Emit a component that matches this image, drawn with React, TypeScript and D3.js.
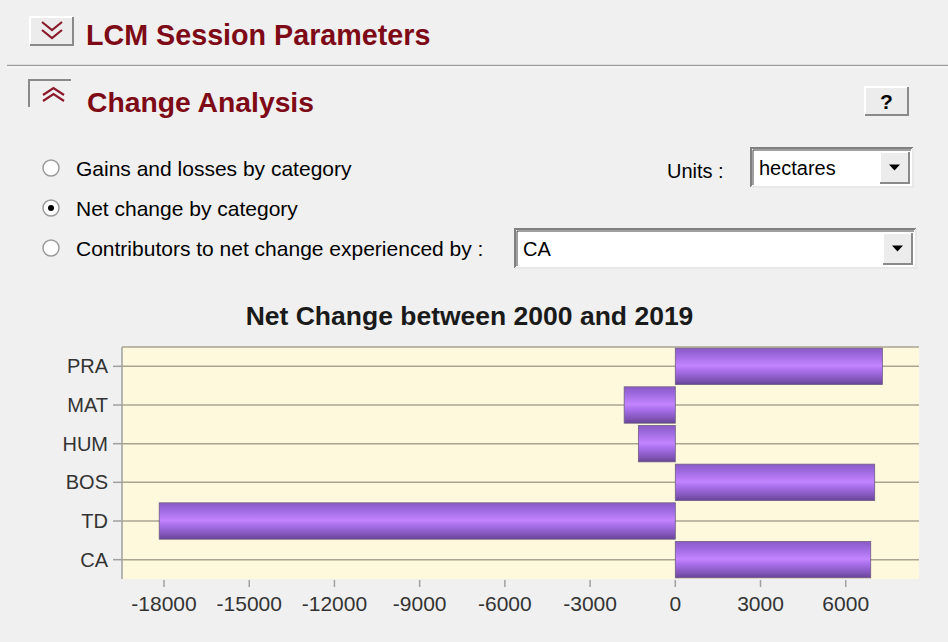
import React from "react";
import { scaleBand, scaleLinear } from "d3";

// categorías (de arriba abajo) y cambio neto en hectáreas
const categories = ["PRA", "MAT", "HUM", "BOS", "TD", "CA"];
const netChange = [7290, -1800, -1300, 7020, -18170, 6880];
const xTicks = [-18000, -15000, -12000, -9000, -6000, -3000, 0, 3000, 6000];

const radioLabels = [
  "Gains and losses by category",
  "Net change by category",
  "Contributors to net change experienced by :",
];
const selectedRadio = 1;

const FONT = "'Liberation Sans', Arial, sans-serif";

// botón con relieve estilo Windows
const Bevel: React.FC<{ x: number; y: number; w: number; h: number; sunken?: boolean }> = ({
  x,
  y,
  w,
  h,
  sunken,
}) => {
  const light = sunken ? "#7a7a7a" : "#ffffff";
  const dark = sunken ? "#ffffff" : "#8a8a8a";
  return (
    <g>
      <rect x={x} y={y} width={w} height={h} fill="#ececec" />
      <path d={`M${x},${y + h} V${y} H${x + w}`} fill="none" stroke={light} strokeWidth={2} />
      <path d={`M${x},${y + h} H${x + w} V${y}`} fill="none" stroke={dark} strokeWidth={2} />
    </g>
  );
};

const Combo: React.FC<{ x: number; y: number; w: number; h: number; text: string }> = ({
  x,
  y,
  w,
  h,
  text,
}) => {
  const bx = x + w - 33;
  return (
    <g>
      <rect x={x} y={y} width={w} height={h} fill="#ffffff" />
      <path d={`M${x},${y + h} V${y} H${x + w}`} fill="none" stroke="#808080" strokeWidth={2} />
      <path d={`M${x + 2},${y + h - 2} V${y + 2} H${x + w - 2}`} fill="none" stroke="#404040" strokeWidth={1} />
      <path d={`M${x},${y + h} H${x + w} V${y}`} fill="none" stroke="#e8e8e8" strokeWidth={2} />
      <Bevel x={bx} y={y + 4} w={29} h={h - 8} />
      <path d={`M${bx + 9},${y + h / 2 - 3} h11 l-5.5,6 z`} fill="#000" />
      <text x={x + 8} y={y + h / 2 + 7} fontFamily={FONT} fontSize={20} fill="#000">
        {text}
      </text>
    </g>
  );
};

export default function App() {
  const width = 948;
  const height = 642;
  const plot = { left: 122, right: 919, top: 347, bottom: 579 };

  const x = scaleLinear().domain([-19480, 8580]).range([plot.left, plot.right]);
  const y = scaleBand<string>()
    .domain(categories)
    .range([plot.top, plot.bottom])
    .paddingInner(0.06)
    .paddingOuter(0.03);

  const data = categories.map((c, i) => ({ cat: c, value: netChange[i] }));

  return (
    <div style={{ position: "fixed", left: 0, top: 0, width, height, background: "#f0f0f0" }}>
      <svg width={width} height={height} style={{ display: "block" }}>
        <defs>
          <linearGradient id="barGrad" x1="0" y1="0" x2="0" y2="1">
            <stop offset="0%" stopColor="#8a5ac6" />
            <stop offset="20%" stopColor="#9e6ae0" />
            <stop offset="48%" stopColor="#c384ff" />
            <stop offset="62%" stopColor="#a970ec" />
            <stop offset="88%" stopColor="#8054b6" />
            <stop offset="100%" stopColor="#654494" />
          </linearGradient>
        </defs>
        <rect width={width} height={height} fill="#f0f0f0" />

        {/* Cabecera: LCM Session Parameters */}
        <Bevel x={30} y={17} w={43} h={28} />
        <path d="M42,22 l10,8 l10,-8 M42,30 l10,8 l10,-8" fill="none" stroke="#8b1a2a" strokeWidth={2.2} />
        <text x={86} y={45} fontFamily={FONT} fontWeight="bold" fontSize={28.7} fill="#7d0a16">
          LCM Session Parameters
        </text>
        <line x1={7} x2={948} y1={65.5} y2={65.5} stroke="#a0a0a0" strokeWidth={1.5} />
        <line x1={7} x2={948} y1={67} y2={67} stroke="#ffffff" strokeWidth={1} />

        {/* Cabecera: Change Analysis */}
        <path d="M29,107 V80 H71" fill="none" stroke="#8a8a8a" strokeWidth={2} />
        <path d="M43,95 l10.5,-7 l10.5,7 M43,101 l10.5,-7 l10.5,7" fill="none" stroke="#8b1a2a" strokeWidth={2.2} />
        <text x={87} y={112} fontFamily={FONT} fontWeight="bold" fontSize={28.3} fill="#7d0a16">
          Change Analysis
        </text>
        <Bevel x={865} y={87} w={43} h={28} />
        <text x={886.5} y={109} textAnchor="middle" fontFamily={FONT} fontWeight="bold" fontSize={21} fill="#000">
          ?
        </text>

        {/* Opciones */}
        {radioLabels.map((label, i) => {
          const cy = 168 + i * 40;
          return (
            <g key={label}>
              <circle cx={51} cy={cy} r={8} fill="#ffffff" stroke="#9a9a9a" strokeWidth={1.5} />
              {i === selectedRadio && <circle cx={51} cy={cy} r={3} fill="#000" />}
              <text x={76} y={cy + 8} fontFamily={FONT} fontSize={21} fill="#000">
                {label}
              </text>
            </g>
          );
        })}
        <text x={667} y={178} fontFamily={FONT} fontSize={20} fill="#000">
          Units :
        </text>
        <Combo x={751} y={148} w={162} h={39} text="hectares" />
        <Combo x={515} y={229} w={401} h={39} text="CA" />

        {/* Título */}
        <text
          x={469.5}
          y={325}
          textAnchor="middle"
          fontFamily={FONT}
          fontWeight="bold"
          fontSize={26.5}
          fill="#1a1a1a"
        >
          Net Change between 2000 and 2019
        </text>

        {/* Área del gráfico */}
        <rect
          x={plot.left}
          y={plot.top}
          width={plot.right - plot.left}
          height={plot.bottom - plot.top}
          fill="#fef9dc"
        />
        <line x1={plot.left} x2={plot.right} y1={plot.top} y2={plot.top} stroke="#a8a490" strokeWidth={1.5} />
        <line x1={plot.left} x2={plot.left} y1={plot.top} y2={plot.bottom} stroke="#a0a0a0" strokeWidth={1.5} />

        {/* Líneas de categoría + etiquetas */}
        {categories.map((c) => {
          const cy = (y(c) ?? 0) + y.bandwidth() / 2;
          return (
            <g key={c}>
              <line x1={plot.left} x2={plot.right} y1={cy} y2={cy} stroke="#a8a490" strokeWidth={1.5} />
              <line x1={113} x2={plot.left} y1={cy} y2={cy} stroke="#a0a0a0" strokeWidth={1.5} />
              <text x={108} y={cy + 7} textAnchor="end" fontFamily={FONT} fontSize={20} fill="#333">
                {c}
              </text>
            </g>
          );
        })}

        {/* Barras */}
        {data.map((d) => (
          <rect
            key={d.cat}
            x={x(Math.min(0, d.value))}
            y={y(d.cat)}
            width={Math.abs(x(d.value) - x(0))}
            height={y.bandwidth()}
            fill="url(#barGrad)"
            stroke="#6f5c86"
            strokeWidth={0.8}
          />
        ))}

        {/* Eje X */}
        {xTicks.map((t) => (
          <g key={t}>
            <line x1={x(t)} x2={x(t)} y1={580} y2={587} stroke="#a0a0a0" strokeWidth={1.5} />
            <text x={x(t)} y={611} textAnchor="middle" fontFamily={FONT} fontSize={21} fill="#333">
              {t}
            </text>
          </g>
        ))}
      </svg>
    </div>
  );
}
